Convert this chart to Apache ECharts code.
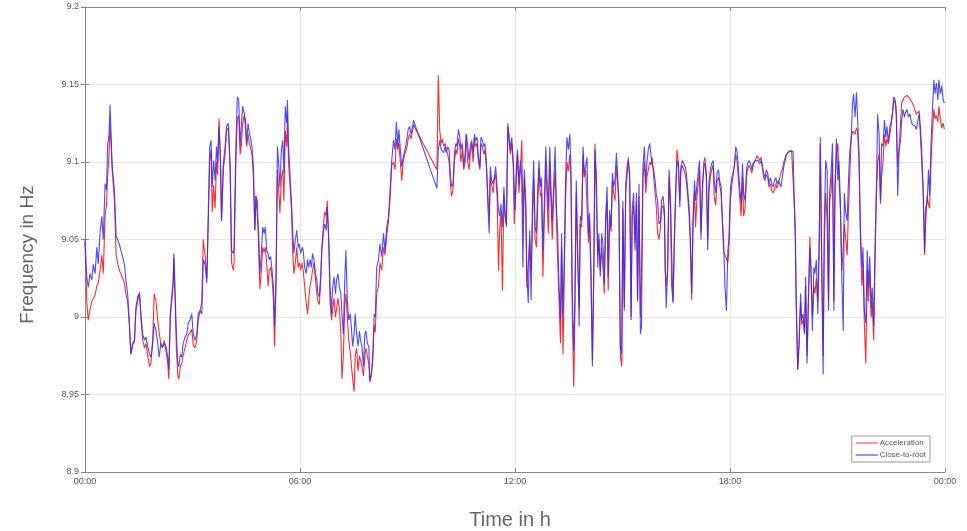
<!DOCTYPE html>
<html>
<head>
<meta charset="utf-8">
<title>Frequency</title>
<script src="https://cdn.jsdelivr.net/npm/echarts@6/dist/echarts.min.js"></script>
<style>
  html, body { margin: 0; padding: 0; background: #fff; }
  #chart { width: 967px; height: 531px; }
</style>
</head>
<body>
<div id="chart"></div>
<script>
// time of day in hours
const hours = [
  0.00,0.05,0.09,0.14,0.19,0.23,0.28,0.33,0.37,0.42,
  0.47,0.51,0.56,0.60,0.63,0.67,0.70,0.73,0.76,0.82,
  0.87,0.91,0.96,1.00,1.05,1.10,1.14,1.19,1.24,1.28,
  1.33,1.38,1.42,1.47,1.52,1.56,1.61,1.66,1.70,1.75,
  1.80,1.84,1.89,1.93,1.98,2.03,2.07,2.12,2.17,2.21,
  2.26,2.31,2.34,2.38,2.42,2.46,2.48,2.51,2.55,2.59,
  2.62,2.66,2.70,2.74,2.79,2.84,2.88,2.93,2.98,3.02,
  3.07,3.12,3.16,3.21,3.26,3.30,3.35,3.40,3.44,3.48,
  3.52,3.55,3.59,3.63,3.67,3.70,3.74,3.78,3.81,3.86,
  3.91,3.95,4.00,4.05,4.09,4.14,4.16,4.21,4.25,4.29,
  4.33,4.36,4.40,4.44,4.48,4.51,4.55,4.59,4.62,4.66,
  4.70,4.74,4.77,4.81,4.85,4.88,4.92,4.96,5.00,5.03,
  5.07,5.11,5.14,5.18,5.22,5.26,5.29,5.33,5.37,5.41,
  5.44,5.48,5.52,5.55,5.59,5.63,5.65,5.68,5.72,5.76,
  5.80,5.83,5.87,5.91,5.95,5.98,6.02,6.06,6.09,6.13,
  6.17,6.21,6.24,6.28,6.32,6.35,6.39,6.43,6.47,6.50,
  6.54,6.58,6.61,6.65,6.69,6.73,6.76,6.80,6.84,6.88,
  6.91,6.95,6.99,7.02,7.06,7.10,7.14,7.17,7.21,7.25,
  7.28,7.32,7.36,7.40,7.43,7.47,7.51,7.54,7.58,7.62,
  7.66,7.69,7.73,7.77,7.81,7.84,7.88,7.92,7.95,7.99,
  8.03,8.07,8.10,8.14,8.19,8.23,8.28,8.33,8.37,8.42,
  8.47,8.51,8.56,8.61,8.65,8.69,8.73,8.76,8.80,8.84,
  8.88,8.91,8.95,8.99,9.02,9.06,9.10,9.14,9.17,9.21,
  9.82,9.86,9.90,9.94,9.97,10.01,10.05,10.08,10.12,10.16,
  10.20,10.23,10.27,10.31,10.35,10.38,10.42,10.46,10.49,10.53,
  10.57,10.61,10.64,10.68,10.72,10.75,10.79,10.83,10.87,10.90,
  10.94,10.98,11.02,11.05,11.09,11.13,11.16,11.20,11.24,11.28,
  11.31,11.35,11.39,11.42,11.46,11.50,11.54,11.57,11.61,11.65,
  11.69,11.72,11.76,11.80,11.83,11.87,11.91,11.95,11.98,12.00,
  12.04,12.07,12.11,12.15,12.19,12.22,12.26,12.30,12.33,12.37,
  12.41,12.45,12.48,12.52,12.56,12.60,12.63,12.67,12.71,12.74,
  12.78,12.82,12.86,12.89,12.93,12.97,13.00,13.04,13.08,13.12,
  13.15,13.19,13.23,13.27,13.30,13.34,13.38,13.41,13.45,13.49,
  13.53,13.56,13.60,13.64,13.67,13.71,13.75,13.79,13.82,13.86,
  13.90,13.93,13.97,14.01,14.05,14.08,14.12,14.16,14.20,14.23,
  14.27,14.31,14.34,14.38,14.42,14.46,14.49,14.53,14.57,14.60,
  14.64,14.68,14.72,14.75,14.79,14.83,14.87,14.90,14.94,14.98,
  15.01,15.05,15.09,15.13,15.16,15.20,15.24,15.27,15.31,15.35,
  15.39,15.42,15.46,15.50,15.53,15.57,15.61,15.65,15.68,15.72,
  15.76,15.80,15.83,15.87,15.91,15.94,15.98,16.02,16.06,16.09,
  16.13,16.17,16.19,16.22,16.26,16.30,16.34,16.37,16.41,16.45,
  16.48,16.52,16.56,16.60,16.63,16.67,16.71,16.75,16.78,16.82,
  16.86,16.89,16.93,16.97,17.01,17.04,17.08,17.12,17.15,17.19,
  17.23,17.27,17.30,17.34,17.38,17.41,17.45,17.49,17.53,17.56,
  17.60,17.64,17.68,17.71,17.75,17.79,17.82,17.86,17.90,17.94,
  17.97,18.01,18.05,18.08,18.12,18.16,18.20,18.23,18.27,18.31,
  18.35,18.38,18.42,18.46,18.49,18.53,18.57,18.61,18.64,18.68,
  18.72,18.75,18.79,18.83,18.87,18.90,18.94,18.98,19.01,19.05,
  19.09,19.13,19.16,19.20,19.24,19.28,19.31,19.35,19.39,19.42,
  19.46,19.50,19.54,19.57,19.61,19.65,19.68,19.72,19.76,19.82,
  19.85,19.89,19.93,19.97,20.00,20.04,20.08,20.11,20.15,20.19,
  20.23,20.26,20.30,20.34,20.37,20.41,20.45,20.49,20.52,20.56,
  20.60,20.63,20.67,20.71,20.75,20.78,20.82,20.86,20.90,20.93,
  20.97,21.01,21.04,21.08,21.12,21.16,21.19,21.23,21.27,21.30,
  21.34,21.38,21.42,21.45,21.49,21.53,21.56,21.60,21.64,21.68,
  21.71,21.75,21.79,21.83,21.86,21.90,21.94,21.97,22.01,22.05,
  22.09,22.12,22.16,22.20,22.23,22.27,22.31,22.35,22.38,22.42,
  22.46,22.49,22.53,22.57,22.61,22.64,22.68,22.72,22.76,22.79,
  22.83,22.87,22.90,22.94,22.98,23.02,23.05,23.09,23.13,23.17,
  23.20,23.24,23.28,23.31,23.35,23.39,23.43,23.46,23.50,23.54,
  23.57,23.61,23.65,23.69,23.72,23.76,23.80,23.83,23.87,23.91,
  23.95,23.98
]

// Acceleration (red)
const accel = [
  9.048,9.010,8.998,9.005,9.010,9.012,9.014,9.020,9.022,9.030,
  9.040,9.028,9.065,9.072,9.090,9.105,9.125,9.110,9.095,9.075,
  9.040,9.035,9.030,9.028,9.025,9.022,9.015,9.010,8.994,8.976,
  8.982,8.984,9.004,9.010,9.016,9.000,8.985,8.980,8.983,8.975,
  8.968,8.970,8.985,9.015,9.010,8.998,8.990,8.982,8.980,8.985,
  8.978,8.970,8.960,9.000,9.010,9.020,9.038,9.015,8.980,8.962,
  8.960,8.968,8.970,8.975,8.980,8.985,8.988,8.990,8.992,8.982,
  8.980,8.985,8.998,9.004,9.010,9.050,9.040,9.025,9.060,9.100,
  9.108,9.068,9.085,9.070,9.100,9.092,9.128,9.100,9.062,9.095,
  9.105,9.120,9.122,9.095,9.035,9.030,9.035,9.100,9.128,9.130,
  9.105,9.110,9.125,9.130,9.122,9.110,9.118,9.112,9.112,9.105,
  9.090,9.056,9.078,9.075,9.040,9.018,9.030,9.045,9.042,9.045,
  9.035,9.020,9.030,9.032,9.025,9.010,8.981,9.020,9.095,9.080,
  9.067,9.090,9.095,9.075,9.120,9.110,9.130,9.100,9.085,9.070,
  9.040,9.028,9.035,9.045,9.032,9.035,9.030,9.035,9.030,9.020,
  9.010,9.002,9.010,9.020,9.025,9.030,9.035,9.025,9.015,9.010,
  9.008,9.025,9.045,9.058,9.068,9.065,9.075,9.050,9.010,8.998,
  9.005,9.012,9.000,9.005,9.012,9.005,8.990,8.960,8.975,9.008,
  9.015,9.000,8.985,8.978,8.970,8.960,8.952,8.975,8.980,8.965,
  8.975,8.972,8.968,8.962,8.975,8.980,8.975,8.970,8.958,8.962,
  8.975,8.995,8.990,9.015,9.020,9.035,9.030,9.045,9.040,9.052,
  9.062,9.075,9.098,9.100,9.095,9.115,9.108,9.112,9.100,9.088,
  9.100,9.104,9.105,9.110,9.115,9.118,9.115,9.120,9.124,9.122,
  9.095,9.156,9.120,9.112,9.115,9.110,9.112,9.108,9.105,9.100,
  9.085,9.078,9.082,9.100,9.108,9.105,9.115,9.110,9.100,9.108,
  9.095,9.100,9.118,9.100,9.095,9.105,9.112,9.100,9.115,9.110,
  9.112,9.100,9.095,9.112,9.110,9.105,9.108,9.098,9.080,9.065,
  9.090,9.085,9.080,9.088,9.092,9.078,9.030,9.055,9.068,9.017,
  9.078,9.065,9.060,9.125,9.115,9.105,9.112,9.098,9.060,9.060,
  9.090,9.105,9.080,9.095,9.114,9.060,9.090,9.070,9.019,9.020,
  9.050,9.030,9.055,9.090,9.050,9.045,9.070,9.095,9.078,9.080,
  9.026,9.065,9.100,9.080,9.054,9.100,9.078,9.050,9.078,9.095,
  9.068,9.037,9.010,8.983,9.045,8.976,9.035,9.075,9.100,9.094,
  9.105,9.090,9.000,8.955,9.000,9.080,9.035,9.006,9.060,9.058,
  9.105,9.090,9.095,9.095,9.048,9.062,9.025,8.972,9.030,9.112,
  9.112,9.040,9.050,9.030,9.045,9.030,9.015,9.060,9.075,9.017,
  9.062,9.055,9.088,9.080,9.075,9.098,9.085,9.070,8.975,8.968,
  9.070,9.004,9.080,9.092,9.103,9.088,9.000,9.065,9.072,9.048,
  9.075,9.010,9.078,9.000,9.026,9.090,9.100,9.080,9.090,9.095,
  9.100,9.098,9.103,9.090,9.080,9.072,9.054,9.050,9.058,9.070,
  9.072,9.065,9.030,9.020,9.030,9.090,9.070,9.020,9.010,9.050,
  9.075,9.108,9.100,9.075,9.095,9.098,9.095,9.092,9.088,9.078,
  9.065,9.050,9.011,9.060,9.080,9.058,9.078,9.088,9.095,9.055,
  9.080,9.100,9.103,9.092,9.050,9.080,9.090,9.095,9.098,9.078,
  9.072,9.088,9.090,9.085,9.080,9.060,9.043,9.040,9.040,9.035,
  9.045,9.075,9.085,9.090,9.097,9.105,9.100,9.090,9.078,9.065,
  9.090,9.065,9.070,9.090,9.095,9.098,9.097,9.093,9.097,9.100,
  9.102,9.104,9.103,9.101,9.103,9.098,9.093,9.090,9.092,9.090,
  9.084,9.086,9.082,9.080,9.082,9.086,9.083,9.086,9.090,9.093,
  9.095,9.100,9.103,9.105,9.106,9.107,9.107,9.107,9.107,9.060,
  9.010,8.966,8.985,9.010,8.995,8.998,8.990,9.020,8.975,9.010,
  9.052,9.028,9.000,9.020,9.015,9.025,9.010,9.050,9.116,9.030,
  8.975,9.045,9.080,9.062,9.010,9.075,9.080,9.100,9.010,9.085,
  9.105,9.112,9.090,9.070,9.030,9.045,9.060,9.050,9.040,9.065,
  9.090,9.115,9.120,9.121,9.118,9.122,9.120,9.100,9.050,9.020,
  9.035,8.995,8.970,9.030,9.010,9.030,9.000,9.010,8.985,9.040,
  9.080,9.100,9.105,9.075,9.090,9.100,9.118,9.110,9.115,9.112,
  9.118,9.122,9.130,9.140,9.138,9.130,9.097,9.110,9.125,9.138,
  9.140,9.142,9.141,9.143,9.142,9.141,9.140,9.138,9.136,9.133,
  9.131,9.130,9.133,9.134,9.100,9.080,9.040,9.060,9.078,9.073,
  9.070,9.100,9.120,9.134,9.128,9.130,9.126,9.136,9.128,9.122,
  9.125,9.121
]

// Close-to-root (blue)
const closeToRoot = [
  9.050,9.026,9.019,9.028,9.024,9.034,9.028,9.045,9.034,9.054,
  9.065,9.050,9.086,9.082,9.110,9.118,9.137,9.116,9.097,9.082,
  9.052,9.050,9.047,9.043,9.039,9.034,9.024,9.015,8.996,8.976,
  8.983,8.985,9.006,9.013,9.015,9.002,8.989,8.985,8.987,8.981,
  8.976,8.974,8.983,8.996,8.991,8.983,8.974,8.983,8.981,8.983,
  8.981,8.974,8.966,9.002,9.013,9.024,9.041,9.019,8.989,8.970,
  8.968,8.976,8.974,8.983,8.987,8.989,8.996,8.998,9.002,8.989,
  8.985,8.989,9.002,9.004,9.002,9.037,9.034,9.022,9.067,9.110,
  9.114,9.084,9.101,9.088,9.110,9.099,9.123,9.103,9.062,9.099,
  9.110,9.123,9.125,9.099,9.043,9.041,9.045,9.110,9.142,9.140,
  9.110,9.123,9.136,9.136,9.127,9.112,9.125,9.118,9.116,9.110,
  9.097,9.056,9.078,9.078,9.052,9.028,9.041,9.058,9.054,9.058,
  9.043,9.041,9.037,9.039,9.030,9.019,8.994,9.024,9.110,9.097,
  9.084,9.108,9.114,9.093,9.136,9.125,9.140,9.110,9.093,9.075,
  9.054,9.041,9.050,9.056,9.045,9.047,9.041,9.045,9.043,9.032,
  9.028,9.037,9.032,9.037,9.032,9.041,9.037,9.028,9.024,9.015,
  9.013,9.028,9.043,9.054,9.060,9.056,9.071,9.052,9.019,9.002,
  9.019,9.026,9.015,9.024,9.028,9.019,9.015,9.002,8.989,9.024,
  9.043,9.011,8.998,9.002,8.994,8.981,8.989,9.002,8.989,8.981,
  8.991,8.985,8.981,8.968,8.989,8.991,8.983,8.981,8.959,8.963,
  8.972,9.002,9.000,9.032,9.037,9.047,9.039,9.054,9.043,9.058,
  9.065,9.080,9.101,9.114,9.108,9.126,9.110,9.121,9.108,9.097,
  9.103,9.106,9.110,9.116,9.121,9.123,9.118,9.123,9.127,9.124,
  9.083,9.108,9.114,9.108,9.108,9.106,9.110,9.106,9.110,9.108,
  9.090,9.084,9.086,9.106,9.112,9.110,9.121,9.116,9.108,9.112,
  9.097,9.106,9.118,9.110,9.101,9.110,9.114,9.106,9.118,9.114,
  9.116,9.103,9.097,9.116,9.114,9.110,9.112,9.101,9.073,9.054,
  9.097,9.088,9.086,9.090,9.097,9.084,9.069,9.065,9.073,9.058,
  9.084,9.069,9.058,9.123,9.118,9.108,9.116,9.101,9.084,9.069,
  9.097,9.108,9.086,9.101,9.090,9.032,9.095,9.075,9.028,9.009,
  9.056,9.011,9.065,9.101,9.058,9.054,9.080,9.101,9.084,9.090,
  9.043,9.075,9.110,9.090,9.069,9.110,9.086,9.062,9.086,9.110,
  9.075,9.054,9.019,8.998,9.054,9.002,9.043,9.088,9.116,9.108,
  9.118,9.097,9.015,8.978,9.011,9.088,9.043,8.994,9.065,9.062,
  9.110,9.093,9.097,9.103,9.054,9.067,9.032,8.968,9.032,9.108,
  9.093,9.032,9.054,9.026,9.054,9.045,9.022,9.065,9.084,9.026,
  9.069,9.058,9.093,9.084,9.088,9.106,9.088,9.075,8.981,8.976,
  9.075,9.006,9.086,9.097,9.101,9.093,8.998,9.069,9.080,9.043,
  9.080,9.011,9.086,8.989,8.994,9.097,9.110,9.086,9.099,9.108,
  9.112,9.103,9.099,9.095,9.088,9.080,9.075,9.060,9.062,9.075,
  9.078,9.069,9.037,9.006,9.032,9.095,9.075,9.043,9.009,9.054,
  9.078,9.101,9.097,9.071,9.097,9.101,9.099,9.097,9.093,9.082,
  9.071,9.054,9.015,9.065,9.088,9.075,9.086,9.095,9.101,9.050,
  9.086,9.097,9.099,9.090,9.043,9.086,9.095,9.099,9.101,9.088,
  9.080,9.093,9.095,9.088,9.084,9.062,9.050,9.019,9.004,9.043,
  9.050,9.082,9.090,9.093,9.097,9.110,9.106,9.097,9.084,9.073,
  9.099,9.080,9.075,9.095,9.099,9.101,9.099,9.095,9.099,9.099,
  9.101,9.102,9.101,9.099,9.101,9.097,9.090,9.088,9.095,9.093,
  9.086,9.090,9.086,9.084,9.088,9.090,9.086,9.088,9.088,9.084,
  9.090,9.097,9.101,9.104,9.106,9.107,9.107,9.107,9.107,9.052,
  9.004,8.966,8.983,9.015,8.998,9.002,8.989,9.026,8.970,9.015,
  9.045,9.032,8.991,9.032,9.028,9.037,9.002,9.045,9.112,9.037,
  8.963,9.058,9.101,9.095,9.004,9.080,9.093,9.112,9.004,9.080,
  9.115,9.088,9.101,9.075,9.026,8.991,9.080,9.067,9.062,9.084,
  9.106,9.114,9.138,9.144,9.129,9.145,9.144,9.106,9.058,9.032,
  9.045,9.004,8.996,9.043,9.019,9.039,9.006,9.019,8.994,9.047,
  9.090,9.131,9.118,9.073,9.112,9.110,9.127,9.116,9.123,9.112,
  9.123,9.125,9.131,9.142,9.140,9.134,9.078,9.108,9.114,9.127,
  9.134,9.129,9.132,9.134,9.129,9.131,9.127,9.124,9.125,9.123,
  9.121,9.120,9.131,9.123,9.108,9.084,9.042,9.071,9.073,9.095,
  9.078,9.112,9.134,9.153,9.144,9.151,9.140,9.153,9.144,9.149,
  9.140,9.138
]

const seriesNames = ['Acceleration', 'Close-to-root']
const xTicks = [0, 6, 12, 18, 24]

const font = "'Liberation Sans Narrow', 'Liberation Sans', Arial, sans-serif"
const chart = echarts.init(document.getElementById('chart'))

const hourLabel = v => String(v % 24).padStart(2, '0') + ':00'

chart.setOption({
  animation: false,
  backgroundColor: '#fff',
  grid: {
    left: 85,
    right: 22,
    top: 7,
    bottom: 59,
    containLabel: false,
    outerBoundsMode: 'none'
  },
  legend: {
    data: seriesNames,
    orient: 'vertical',
    right: 37,
    top: 436,
    icon: 'rect',
    itemWidth: 22,
    itemHeight: 1,
    itemGap: 4,
    padding: [3, 4, 3, 4],
    borderColor: '#999',
    borderWidth: 1,
    backgroundColor: '#fff',
    textStyle: {
      color: '#555',
      fontSize: 8,
      fontFamily: font,
      padding: [0, 0, 0, -3]
    }
  },
  xAxis: [
    {
      type: 'value',
      min: xTicks[0],
      max: xTicks[xTicks.length - 1],
      interval: 6,
      name: 'Time in h',
      nameLocation: 'middle',
      nameGap: 38,
      nameTextStyle: {
        color: '#666',
        fontSize: 20,
        fontFamily: font,
        padding: [0, 10, 0, 0]
      },
      axisLine: { lineStyle: { color: '#888' } },
      axisTick: { inside: true, length: 4, lineStyle: { color: '#888' } },
      axisLabel: {
        color: '#555',
        fontSize: 9,
        fontFamily: font,
        margin: 5,
        formatter: hourLabel
      },
      splitLine: { lineStyle: { color: '#e6e6e6' } }
    },
    {
      type: 'value',
      position: 'top',
      min: xTicks[0],
      max: xTicks[xTicks.length - 1],
      interval: 6,
      axisLine: { lineStyle: { color: '#888' } },
      axisTick: { inside: true, length: 4, lineStyle: { color: '#888' } },
      axisLabel: { show: false },
      splitLine: { show: false }
    }
  ],
  yAxis: [
    {
      type: 'value',
      min: 8.9,
      max: 9.2,
      interval: 0.05,
      name: 'Frequency in Hz',
      nameLocation: 'middle',
      nameGap: 48,
      nameTextStyle: {
        color: '#666',
        fontSize: 19,
        fontFamily: font,
        padding: [0, 30, 0, 0]
      },
      axisLine: { show: true, lineStyle: { color: '#888' } },
      axisTick: { show: true, inside: true, length: 4, lineStyle: { color: '#888' } },
      axisLabel: {
        color: '#555',
        fontSize: 9,
        fontFamily: font,
        margin: 6,
        formatter: v => String(Math.round(v * 100) / 100)
      },
      splitLine: { lineStyle: { color: '#e6e6e6' } }
    },
    {
      type: 'value',
      position: 'right',
      min: 8.9,
      max: 9.2,
      interval: 0.05,
      axisLine: { show: true, lineStyle: { color: '#888' } },
      axisTick: { show: true, inside: true, length: 4, lineStyle: { color: '#888' } },
      axisLabel: { show: false },
      splitLine: { show: false }
    }
  ],
  series: [
    {
      name: seriesNames[0],
      type: 'line',
      symbol: 'none',
      color: '#ff2b2b',
      lineStyle: { width: 1.1, color: '#ff2b2b' },
      data: hours.map((h, i) => [h, accel[i]])
    },
    {
      name: seriesNames[1],
      type: 'line',
      symbol: 'none',
      color: '#2b2bff',
      lineStyle: { width: 1.1, color: '#2b2bff', opacity: 0.85 },
      data: hours.map((h, i) => [h, closeToRoot[i]])
    }
  ]
})
</script>
</body>
</html>
